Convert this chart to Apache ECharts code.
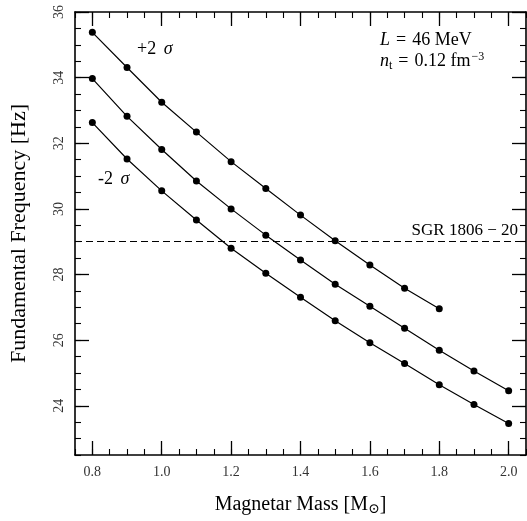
<!DOCTYPE html>
<html>
<head>
<meta charset="utf-8">
<script src="https://cdn.jsdelivr.net/npm/echarts@6/dist/echarts.min.js"></script>
<style>
  html, body { margin: 0; padding: 0; background: #fff; }
  #chart { width: 527px; height: 521px; }
</style>
</head>
<body>
<div id="chart"></div>
<script>
// magnetar mass in solar masses
const masses = [0.8, 0.9, 1.0, 1.1, 1.2, 1.3, 1.4, 1.5, 1.6, 1.7, 1.8, 1.9, 2.0];
// fundamental frequency [Hz]
const plus2Sigma = [35.38, 34.31, 33.25, 32.34, 31.44, 30.62, 29.81, 29.03, 28.29, 27.58, 26.96];
const central = [33.97, 32.82, 31.81, 30.85, 30.00, 29.20, 28.44, 27.70, 27.03, 26.36, 25.69, 25.06, 24.46];
const minus2Sigma = [32.63, 31.52, 30.55, 29.66, 28.80, 28.04, 27.31, 26.59, 25.92, 25.29, 24.64, 24.04, 23.46];
const sgrFrequency = 29;

const xTickLabels = [0.8, 1.0, 1.2, 1.4, 1.6, 1.8, 2.0];
const yTickLabels = [24, 26, 28, 30, 32, 34, 36];

const font = "'Liberation Serif', 'DejaVu Serif', serif";

var chart = echarts.init(document.getElementById('chart'));

function pairs(vals) {
  return vals.map((v, i) => [masses[i], v]);
}

function xAxisDef(pos, major) {
  return {
    type: 'value', min: 0.75, max: 2.05, position: pos,
    interval: major ? undefined : 0.05,
    axisLine: { show: major, lineStyle: { color: '#000', width: 1.6 } },
    axisTick: major
      ? { show: true, inside: true, length: 14, customValues: xTickLabels, lineStyle: { color: '#000', width: 1.3 } }
      : { show: true, inside: true, length: 6, lineStyle: { color: '#000', width: 1.1 } },
    axisLabel: (major && pos == 'bottom')
      ? { show: true, customValues: xTickLabels, formatter: v => v.toFixed(1), margin: 10,
          color: '#333', fontSize: 14, fontFamily: font }
      : { show: false },
    splitLine: { show: false },
    name: (major && pos == 'bottom') ? 'Magnetar Mass [M{sub|⊙}]' : '',
    nameLocation: 'middle',
    nameGap: 38,
    nameTextStyle: {
      color: '#000', fontSize: 20, fontFamily: font,
      rich: { sub: { fontSize: 14, fontFamily: "'DejaVu Serif', serif", verticalAlign: 'bottom', padding: [9, 0, 0, 0] } }
    }
  };
}

function yAxisDef(pos, major) {
  return {
    type: 'value', min: 22.5, max: 36, position: pos,
    interval: major ? undefined : 0.5,
    axisLine: { show: major, lineStyle: { color: '#000', width: 1.6 } },
    axisTick: major
      ? { show: true, inside: true, length: 14, customValues: yTickLabels, lineStyle: { color: '#000', width: 1.3 } }
      : { show: true, inside: true, length: 6, lineStyle: { color: '#000', width: 1.1 } },
    axisLabel: (major && pos == 'left')
      ? { show: true, customValues: yTickLabels, rotate: 90, margin: 9,
          color: '#333', fontSize: 14, fontFamily: font }
      : { show: false },
    splitLine: { show: false },
    name: (major && pos == 'left') ? 'Fundamental Frequency [Hz]' : '',
    nameLocation: 'middle',
    nameGap: 45,
    nameRotate: 90,
    nameTextStyle: { color: '#000', fontSize: 22, fontFamily: font }
  };
}

function curve(name, vals, extra) {
  return Object.assign({
    name: name,
    type: 'line',
    data: pairs(vals),
    symbol: 'circle',
    symbolSize: 7,
    smooth: false,
    lineStyle: { color: '#000', width: 1.2 },
    itemStyle: { color: '#000' },
    z: 3
  }, extra || {});
}

var option = {
  animation: false,
  backgroundColor: '#fff',
  grid: { left: 74, right: 1, top: 12, bottom: 55, containLabel: false },
  xAxis: [
    xAxisDef('bottom', true), xAxisDef('bottom', false),
    xAxisDef('top', true), xAxisDef('top', false)
  ],
  yAxis: [
    yAxisDef('left', true), yAxisDef('left', false),
    yAxisDef('right', true), yAxisDef('right', false)
  ],
  series: [
    curve('+2 σ', plus2Sigma),
    curve('central', central, {
      markLine: {
        silent: true,
        symbol: 'none',
        data: [{ yAxis: sgrFrequency }],
        lineStyle: { color: '#000', type: [7, 4], width: 1.2 },
        label: {
          show: true, position: 'insideEndTop', formatter: 'SGR 1806 − 20',
          color: '#000', fontSize: 17, fontFamily: font, distance: [8, 3]
        }
      }
    }),
    curve('-2 σ', minus2Sigma)
  ],
  graphic: [
    {
      type: 'text', left: 137, top: 40,
      style: {
        text: '+2 {i|σ}', fill: '#000', font: '18px ' + font,
        rich: { i: { fontStyle: 'italic', fontSize: 18, fontFamily: font, padding: [0, 0, 0, 3] } }
      }
    },
    {
      type: 'text', left: 98, top: 170,
      style: {
        text: '-2 {i|σ}', fill: '#000', font: '18px ' + font,
        rich: { i: { fontStyle: 'italic', fontSize: 18, fontFamily: font, padding: [0, 0, 0, 3] } }
      }
    },
    {
      type: 'text', left: 380, top: 30,
      style: {
        text: '{i|L}{eq|=}46 MeV\n{i|n}{sub|t}{eq|=}0.12 fm{sup|−3}',
        fill: '#000', font: '18px ' + font, lineHeight: 21,
        rich: {
          i: { fontStyle: 'italic', fontSize: 18, fontFamily: font },
          eq: { fontSize: 18, fontFamily: font, padding: [0, 6, 0, 6] },
          sub: { fontSize: 12, fontFamily: font, padding: [9, 0, 0, 0] },
          sup: { fontSize: 12, fontFamily: font, padding: [0, 0, 9, 1] }
        }
      }
    }
  ]
};

chart.setOption(option);
</script>
</body>
</html>
